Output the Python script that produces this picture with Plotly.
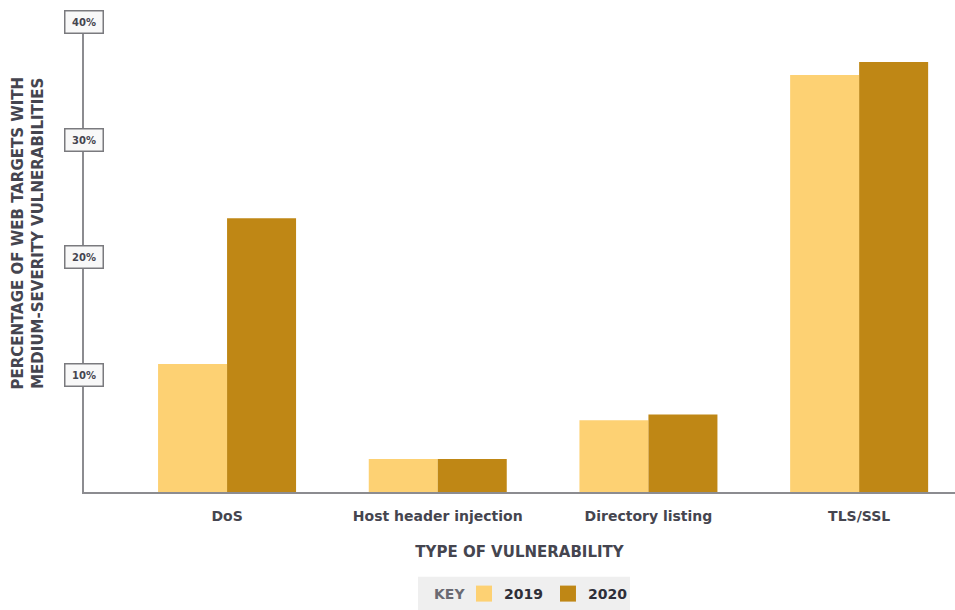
import plotly.graph_objects as go

categories = ["DoS", "Host header injection", "Directory listing", "TLS/SSL"]
years = ["2019", "2020"]
values_2019 = [10.9, 2.8, 6.1, 35.5]
values_2020 = [23.3, 2.8, 6.6, 36.6]
tick_values = [10, 20, 30, 40]
tick_labels = ["10%", "20%", "30%", "40%"]

COLOR_2019 = "#FDD173"
COLOR_2020 = "#BF8715"
TEXT = "#45454f"
AXIS = "#8c8c90"
FONT = "DejaVu Sans"

W, H = 955, 610
L, R, T, B = 84, 0, 22, 117
PW, PH = W - L - R, H - T - B


def px_x(px):
    return (px - L) / PW


def px_y(py):
    return (H - B - py) / PH


fig = go.Figure()
for year, vals, col in zip(years, [values_2019, values_2020], [COLOR_2019, COLOR_2020]):
    fig.add_trace(go.Bar(x=categories, y=vals, name=year, showlegend=False,
                         marker=dict(color=col, line=dict(width=0))))
    # larger square swatch for the key
    fig.add_trace(go.Scatter(x=[None], y=[None], mode="markers", name=f"<b>{year}</b>",
                             marker=dict(symbol="square", size=16, color=col)))

# boxed percentage labels sitting on the vertical axis
for v, t in zip(tick_values, tick_labels):
    fig.add_annotation(x=0, xref="paper", y=v, yref="y", text=f"<b>{t}</b>",
                       showarrow=False, xanchor="center", yanchor="middle",
                       font=dict(family=FONT, size=10, color=TEXT),
                       bgcolor="#f8f8f8", bordercolor="#7a7a7e", borderwidth=1.5,
                       borderpad=3, width=31, height=15)

# vertical axis title
fig.add_annotation(x=px_x(28), y=px_y(234), xref="paper", yref="paper",
                   text="<b>PERCENTAGE OF WEB TARGETS WITH<br>MEDIUM-SEVERITY VULNERABILITIES</b>",
                   textangle=-90, showarrow=False, xanchor="center", yanchor="middle",
                   font=dict(family=FONT, size=15, color=TEXT))

# key panel
fig.add_shape(type="rect", xref="paper", yref="paper",
              x0=px_x(418), x1=px_x(630), y0=px_y(578), y1=px_y(612),
              fillcolor="#efefef", line=dict(width=0), layer="below")
fig.add_annotation(x=px_x(432), y=px_y(595), xref="paper", yref="paper",
                   text="<b>KEY</b>", showarrow=False, xanchor="left", yanchor="middle",
                   font=dict(family=FONT, size=14, color="#6a6a72"))

fig.update_layout(
    width=W, height=H,
    margin=dict(l=L, r=R, t=T, b=B),
    paper_bgcolor="white", plot_bgcolor="white",
    barmode="group", bargap=0.345, bargroupgap=0,
    font=dict(family=FONT, color=TEXT),
    xaxis=dict(type="category", range=[-0.679, 3.455], showgrid=False,
               showline=True, linecolor=AXIS, linewidth=2, ticks="",
               tickvals=categories, ticktext=[f"<b>{c}</b>" for c in categories],
               ticklabelstandoff=10,
               tickfont=dict(family=FONT, size=14, color=TEXT),
               title=dict(text="<b>TYPE OF VULNERABILITY</b>", standoff=24,
                          font=dict(family=FONT, size=15, color=TEXT))),
    yaxis=dict(range=[0, 40], showgrid=False, zeroline=False,
               showline=True, linecolor=AXIS, linewidth=2,
               showticklabels=False, ticks=""),
    showlegend=True,
    legend=dict(orientation="h", x=px_x(464), xanchor="left", y=px_y(595), yanchor="middle",
                bgcolor="rgba(0,0,0,0)", borderwidth=0,
                font=dict(family=FONT, size=14, color="#2e2e38"),
                itemsizing="trace", itemwidth=30),
)

fig.write_html("out.html")
